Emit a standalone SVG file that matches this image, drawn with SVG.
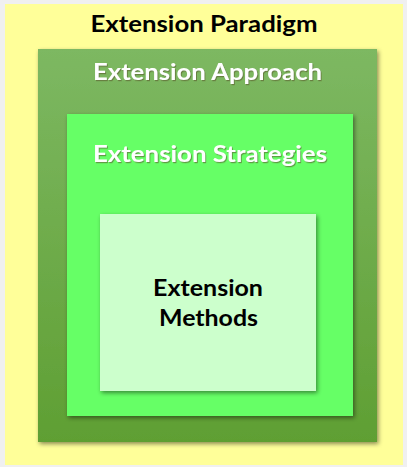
<svg xmlns="http://www.w3.org/2000/svg" width="407" height="467" viewBox="0 0 407 467">
<defs>
<linearGradient id="gApp" x1="0" y1="0" x2="0" y2="1">
<stop offset="0" stop-color="#7db862"/>
<stop offset="1" stop-color="#5f9f33"/>
</linearGradient>
<filter id="sh" x="-10%" y="-10%" width="125%" height="125%">
<feDropShadow dx="1.5" dy="2" stdDeviation="2" flood-color="#000" flood-opacity="0.45"/>
</filter>
<filter id="tsh" x="-5%" y="-20%" width="110%" height="150%">
<feDropShadow dx="1" dy="1.2" stdDeviation="0.6" flood-color="#5a5a2a" flood-opacity="0.6"/>
</filter>
<style>
.t{font-family:Lato,"Open Sans","Liberation Sans",sans-serif;font-weight:bold;font-size:23px;text-anchor:middle}
.w{fill:#ffffff}
.k{fill:#000000}
</style>
</defs>
<rect x="0" y="0" width="407" height="467" fill="#f0f0f0"/>
<g id="paradigm">
<rect x="5" y="4" width="398" height="461" fill="#ffff99"/>
<text class="t k" x="204" y="32" textLength="227" lengthAdjust="spacingAndGlyphs">Extension Paradigm</text>
</g>
<g id="approach">
<rect x="38" y="49" width="339" height="393" fill="url(#gApp)" filter="url(#sh)"/>
<text class="t w" x="207.5" y="80" textLength="229" lengthAdjust="spacingAndGlyphs" filter="url(#tsh)">Extension Approach</text>
</g>
<g id="strategies">
<rect x="67" y="114" width="286" height="302" fill="#66ff66" filter="url(#sh)"/>
<text class="t w" x="210" y="162" textLength="234" lengthAdjust="spacingAndGlyphs" filter="url(#tsh)">Extension Strategies</text>
</g>
<g id="methods">
<rect x="100" y="214" width="216" height="177" fill="#ccffcc" filter="url(#sh)"/>
<text class="t k" x="208" y="296" textLength="110" lengthAdjust="spacingAndGlyphs">Extension</text>
<text class="t k" x="208.5" y="326" textLength="99" lengthAdjust="spacingAndGlyphs">Methods</text>
</g>
<g id="connectors"/>
</svg>
